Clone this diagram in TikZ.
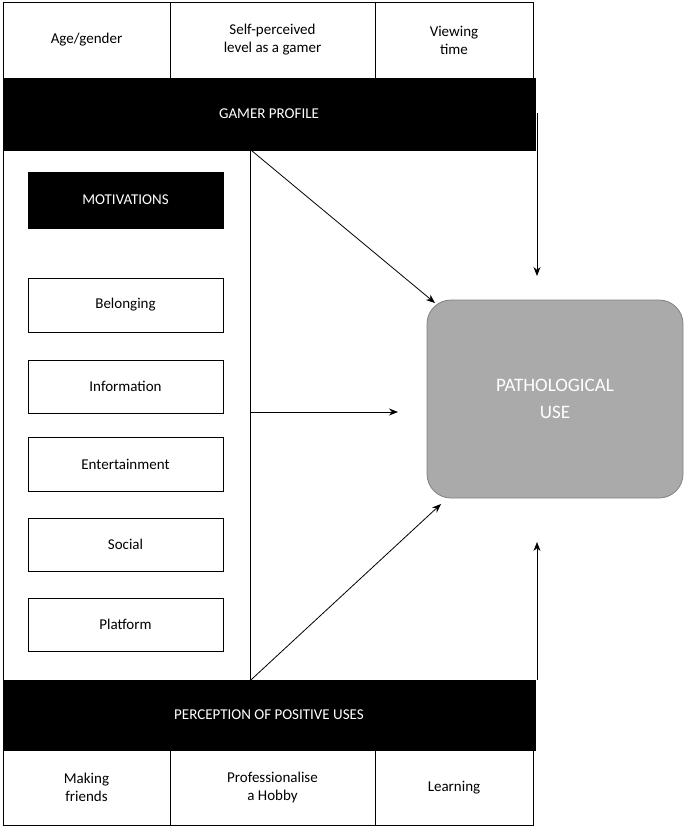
\documentclass[tikz,border=0pt]{standalone}
\usepackage{fontspec}
\setmainfont{Carlito}
\usetikzlibrary{arrows.meta}
\definecolor{patho}{RGB}{170,170,170}
\tikzset{
  cell/.style={draw, thick, fill=white, minimum height=#1, inner sep=0pt, align=center, font=\fontsize{15}{18}\selectfont},
  bar/.style={draw, thick, fill=black, text=white, inner sep=0pt, align=center, font=\fontsize{15}{18}\selectfont},
  link/.style={-{Stealth[length=9pt,width=7pt]}, thick}
}
\begin{document}
\begin{tikzpicture}[x=1pt, y=-1pt]
  \useasboundingbox (0,0) rectangle (685,827);
  % top row of gamer profile
  \node[cell=76pt, minimum width=167pt] (age) at (86.5,40) {Age/gender};
  \node[cell=76pt, minimum width=205pt] (level) at (272.5,40) {Self-perceived\\level as a gamer};
  \node[cell=76pt, minimum width=158pt] (view) at (454,40) {Viewing\\time};
  \node[bar, minimum width=532pt, minimum height=72pt] (profile) at (269,114) {GAMER PROFILE};
  % motivations column
  \node[cell=530pt, minimum width=247pt] (column) at (126.5,415) {};
  \node[bar, minimum width=195pt, minimum height=56pt] (motiv) at (125.5,200) {MOTIVATIONS};
  \node[cell=54pt, minimum width=195pt] (belong) at (125.5,305) {Belonging};
  \node[cell=53pt, minimum width=195pt] (info) at (125.5,386.5) {Information};
  \node[cell=54pt, minimum width=195pt] (enter) at (125.5,464) {Entertainment};
  \node[cell=53pt, minimum width=195pt] (social) at (125.5,544.5) {Social};
  \node[cell=53pt, minimum width=195pt] (platf) at (125.5,624.5) {Platform};
  % perception of positive uses
  \node[bar, minimum width=532pt, minimum height=70pt] (percep) at (269,715) {PERCEPTION OF POSITIVE USES};
  \node[cell=75pt, minimum width=167pt] (friends) at (86.5,787.5) {Making\\friends};
  \node[cell=75pt, minimum width=205pt] (hobby) at (272.5,787.5) {Professionalise\\a Hobby};
  \node[cell=75pt, minimum width=158pt] (learn) at (454,787.5) {Learning};
  % outcome
  \node[draw=gray, thick, fill=patho, rounded corners=24pt, minimum width=256pt, minimum height=198pt,
        text=white, align=center, font=\fontsize{19}{27}\selectfont] (patho) at (555,399) {PATHOLOGICAL\\USE};
  \coordinate (top) at (537,113);
  \coordinate (topend) at (537,276);
  \coordinate (bot) at (537,680);
  \coordinate (botend) at (537,542);
  \coordinate (mid) at (398,412);
  \draw[link] (column.north east) -- (435,303);
  \draw[link] (column.east |- mid) -- (mid);
  \draw[link] (column.south east) -- (441,504);
  \draw[link] (top) -- (topend);
  \draw[link] (bot) -- (botend);
\end{tikzpicture}
\end{document}
